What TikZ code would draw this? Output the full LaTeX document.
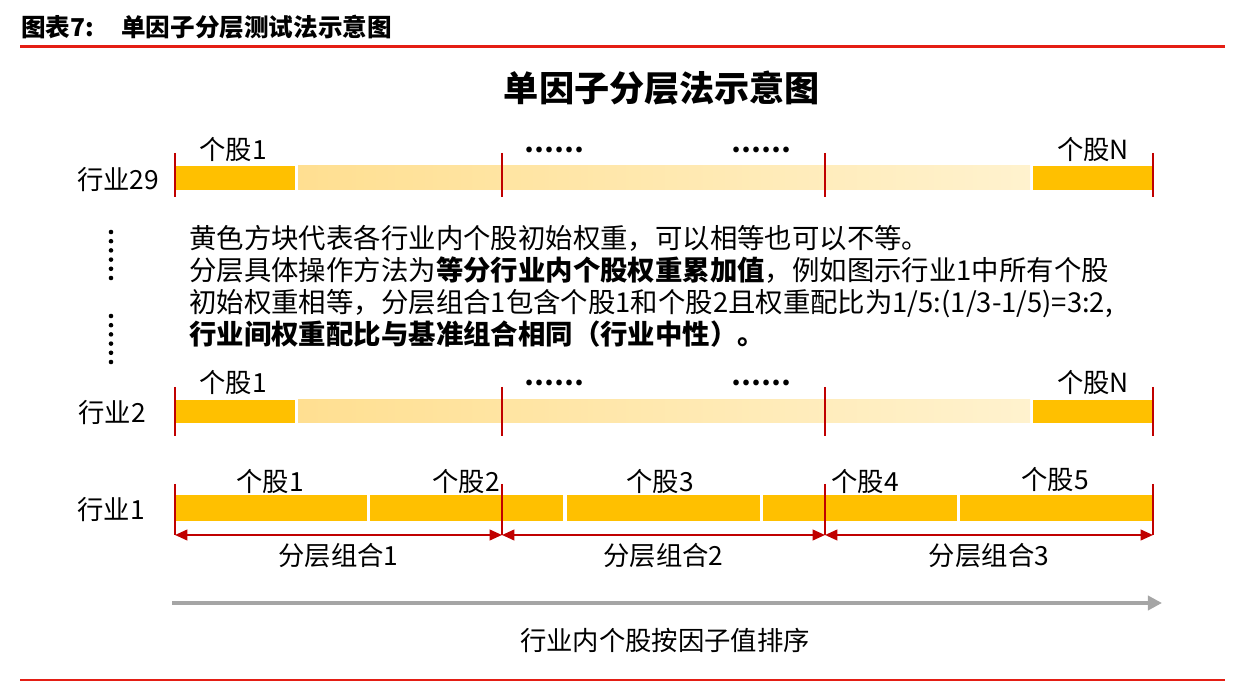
\documentclass[tikz,border=0pt]{standalone}
\usepackage{fontspec}
\setmainfont{Noto Sans CJK SC}
\usetikzlibrary{arrows.meta}
\definecolor{gold}{RGB}{255,192,0}
\definecolor{paleL}{RGB}{255,223,145}
\definecolor{paleR}{RGB}{255,242,206}
\definecolor{tickred}{RGB}{192,0,0}
\definecolor{rulered}{RGB}{228,30,20}
\definecolor{arrowgray}{RGB}{165,165,165}
\tikzset{
    goldseg/.style={fill=gold, draw=none},
    paleseg/.style={left color=paleL, right color=paleR, draw=none},
    sepline/.style={draw=tickred, line width=1.6pt},
    grouparrow/.style={<->, draw=tickred, line width=1.2pt},
    stocklbl/.style={font=\fontsize{15}{18}\selectfont},
    dotlbl/.style={font=\fontsize{15}{18}\bfseries},
    rowlbl/.style={font=\fontsize{15}{18}\selectfont},
}
\begin{document}
\begin{tikzpicture}[x=0.02cm, y=-0.02cm, >={Triangle[length=7pt,width=6pt]},
    font=\fontsize{15}{18}\selectfont]
    \useasboundingbox (0,0) rectangle (1248,695);

    % header and rules
    \node[anchor=west, inner sep=0, font=\fontsize{14}{16}\bfseries] (fig) at (21,27) {图表7:};
    \node[anchor=west, inner sep=0, font=\fontsize{14}{16}\bfseries] (cap) at (121,27) {单因子分层测试法示意图};
    \draw[rulered, line width=1.7pt] (20,47) -- (1225,47);
    \draw[rulered, line width=1.7pt] (20,680) -- (1225,680);
    \node[font=\fontsize{20}{24}\bfseries] (title) at (662,88) {单因子分层法示意图};

    % row labels
    \node[rowlbl] (r29) at (118,180) {行业29};
    \node[rowlbl] (r2) at (112,413) {行业2};
    \node[rowlbl] (r1) at (111,510) {行业1};

    % vertical dots
    \foreach \y in {232,241.2,...,279} \fill (111,\y) circle (2.3);
    \foreach \y in {316,325.2,...,363} \fill (111,\y) circle (2.3);

    % rows 29 and 2: first and last stock, faded middle
    \foreach \t/\b/\n in {166/190/a, 400/423/b} {
        \path[goldseg] (175,\t) rectangle (295,\b);
        \path[paleseg] (298,\t) rectangle (1030,\b);
        \path[goldseg] (1033,\t) rectangle (1153,\b);
    }
    \foreach \x in {175,502,825,1153} {
        \draw[sepline] (\x,153) -- (\x,197);
        \draw[sepline] (\x,387) -- (\x,436);
    }
    \node[stocklbl] (a1) at (233,150) {个股1};
    \node[dotlbl] (ad1) at (554,150) {……};
    \node[dotlbl] (ad2) at (761,150) {……};
    \node[stocklbl] (aN) at (1093,150) {个股N};
    \node[stocklbl] (b1) at (233,383) {个股1};
    \node[dotlbl] (bd1) at (554,383) {……};
    \node[dotlbl] (bd2) at (761,383) {……};
    \node[stocklbl] (bN) at (1093,383) {个股N};

    % note text
    \node[anchor=north west, inner sep=0, align=left,
        font=\fontsize{15.6}{18.2}\selectfont] (note) at (189,225)
        {黄色方块代表各行业内个股初始权重，可以相等也可以不等。\\
         分层具体操作方法为\textbf{等分行业内个股权重累加值}，例如图示行业1中所有个股\\
         初始权重相等，分层组合1包含个股1和个股2且权重配比为1/5:(1/3-1/5)=3:2,\\
         \textbf{行业间权重配比与基准组合相同（行业中性）。}};

    % row 1: five equal stocks cut into three groups
    \foreach \l/\r in {175/367, 370/502, 502/563, 567/760, 763/825, 825/957, 960/1153}
        \path[goldseg] (\l,495) rectangle (\r,521);
    \foreach \x/\n in {175/g0, 502/g1, 825/g2, 1153/g3} {
        \coordinate (\n) at (\x,535);
        \draw[sepline] (\x,484) -- (\n);
    }
    \draw[grouparrow] (g0) -- (g1) node[midway, below=1pt] (p1) {分层组合1};
    \draw[grouparrow] (g1) -- (g2) node[midway, below=1pt] (p2) {分层组合2};
    \draw[grouparrow] (g2) -- (g3) node[midway, below=1pt] (p3) {分层组合3};
    \node[stocklbl] (c1) at (270,482) {个股1};
    \node[stocklbl] (c2) at (466,482) {个股2};
    \node[stocklbl] (c3) at (660,482) {个股3};
    \node[stocklbl] (c4) at (865,482) {个股4};
    \node[stocklbl] (c5) at (1055,480) {个股5};

    % ranking axis
    \coordinate (s0) at (172,603);
    \coordinate (s1) at (1162,603);
    \draw[->, arrowgray, line width=2.5pt, >={Triangle[length=8pt,width=8pt]}] (s0) -- (s1);
    \node (rank) at (665,640) {行业内个股按因子值排序};
\end{tikzpicture}
\end{document}
